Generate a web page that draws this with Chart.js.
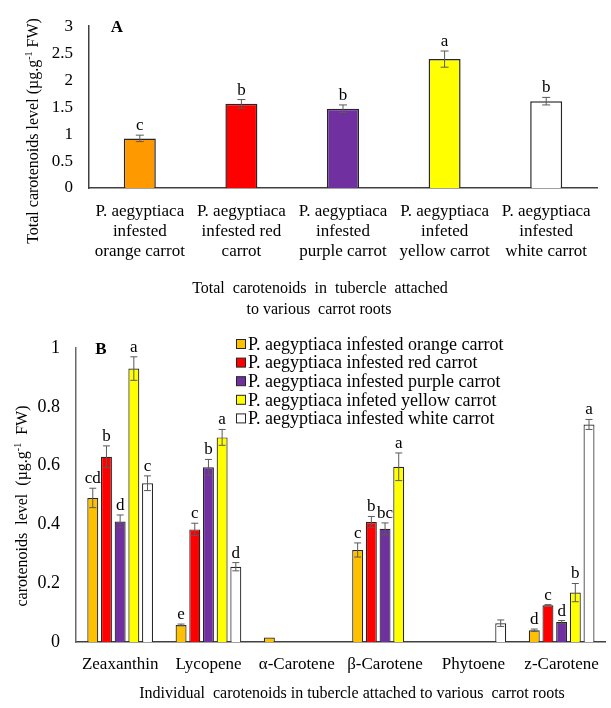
<!DOCTYPE html>
<html>
<head>
<meta charset="utf-8">
<script src="https://cdn.jsdelivr.net/npm/chart.js@4.4.0/dist/chart.umd.min.js"></script>
<style>
    body { margin: 0; background: #fff; }
    #wrap { position: relative; width: 611px; height: 708px; font-family: 'Liberation Serif', serif; color: #000; }
    canvas { position: absolute; left: 0; }
    .txt { position: absolute; white-space: pre; font-size: 16px; transform: translate(-50%, -50%); line-height: 1; }
    .rot { transform: translate(-50%, -50%) rotate(-90deg); }
    .panel { font-weight: bold; font-size: 17px; }
    sup { font-size: 10px; vertical-align: 6px; }
</style>
</head>
<body>
<div id="wrap">
    <canvas id="chartA" width="611" height="320" style="top:0"></canvas>
    <canvas id="chartB" width="611" height="388" style="top:320px"></canvas>
    <div class="txt panel" style="left:117px;top:26px">A</div>
    <div class="txt panel" style="left:101px;top:348px">B</div>
    <div class="txt rot" style="left:32px;top:131px">Total carotenoids level (µg.g<sup>-1</sup> FW)</div>
    <div class="txt" style="left:320px;top:288px">Total  carotenoids  in  tubercle  attached</div>
    <div class="txt" style="left:319px;top:309px">to various  carrot roots</div>
    <div class="txt rot" style="left:21px;top:506px">carotenoids  level  (µg.g<sup>-1</sup>  FW)</div>
    <div class="txt" style="left:352px;top:693px">Individual  carotenoids in tubercle attached to various  carrot roots</div>
</div>
<script>
// painel A - carotenoides totais
const carrotLabels = [
    ['P. aegyptiaca', 'infested', 'orange carrot'],
    ['P. aegyptiaca', 'infested red', 'carrot'],
    ['P. aegyptiaca', 'infested', 'purple carrot'],
    ['P. aegyptiaca', 'infeted', 'yellow carrot'],
    ['P. aegyptiaca', 'infested', 'white carrot']
];
const totalValues = [0.92, 1.56, 1.47, 2.39, 1.61];
const totalErrors = [0.06, 0.08, 0.07, 0.15, 0.07];
const totalLetters = ['c', 'b', 'b', 'a', 'b'];
const totalTicks = [0, 0.5, 1, 1.5, 2, 2.5, 3];

// painel B - carotenoides individuais
const carotenoids = ['Zeaxanthin', 'Lycopene', 'α-Carotene', 'β-Carotene', 'Phytoene', 'z-Carotene'];
const seriesNames = [
    'P. aegyptiaca infested orange carrot',
    'P. aegyptiaca infested red carrot',
    'P. aegyptiaca infested purple carrot',
    'P. aegyptiaca infeted yellow carrot',
    'P. aegyptiaca infested white carrot'
];
const orangeValues = [0.49, 0.058, 0.015, 0.313, null, 0.04];
const redValues = [0.63, 0.383, null, 0.408, null, 0.125];
const purpleValues = [0.41, 0.594, null, 0.385, null, 0.068];
const yellowValues = [0.93, 0.696, null, 0.596, null, 0.168];
const whiteValues = [0.54, 0.256, null, null, 0.064, 0.74];

const orangeErrors = [0.033, 0.003, 0, 0.024, null, 0.004];
const redErrors = [0.037, 0.021, null, 0.019, null, 0.002];
const purpleErrors = [0.022, 0.027, null, 0.02, null, 0.005];
const yellowErrors = [0.04, 0.027, null, 0.047, null, 0.031];
const whiteErrors = [0.025, 0.014, null, null, 0.011, 0.017];

const orangeLetters = ['cd', 'e', '', 'c', '', 'd'];
const redLetters = ['b', 'c', '', 'b', '', 'c'];
const purpleLetters = ['d', 'b', '', 'bc', '', 'd'];
const yellowLetters = ['a', 'a', '', 'a', '', 'b'];
const whiteLetters = ['c', 'd', '', '', '', 'a'];
const individualTicks = [0, 0.2, 0.4, 0.6, 0.8, 1];

const FONT = 'Liberation Serif';

// barras de erro + letras de significancia
const errorBarPlugin = {
    id: 'errorBars',
    afterDatasetsDraw(chart) {
        const ctx = chart.ctx;
        const y = chart.scales.y;
        const cap = chart.options.capHalf || 4;
        chart.data.datasets.forEach((ds, di) => {
            const meta = chart.getDatasetMeta(di);
            meta.data.forEach((bar, i) => {
                const v = ds.data[i];
                if (v === null || v === undefined) return;
                const err = ds.errors[i] || 0;
                const top = y.getPixelForValue(v + err);
                const bot = y.getPixelForValue(v - err);
                if (err > 0) {
                    ctx.save();
                    ctx.strokeStyle = '#5a5a5a';
                    ctx.lineWidth = 1;
                    ctx.beginPath();
                    ctx.moveTo(bar.x, top); ctx.lineTo(bar.x, bot);
                    ctx.moveTo(bar.x - cap, top); ctx.lineTo(bar.x + cap, top);
                    ctx.moveTo(bar.x - cap, bot); ctx.lineTo(bar.x + cap, bot);
                    ctx.stroke();
                    ctx.restore();
                }
                const letter = ds.letters[i];
                if (letter) {
                    ctx.save();
                    ctx.fillStyle = '#000';
                    ctx.font = '17px "' + FONT + '"';
                    ctx.textAlign = 'center';
                    ctx.textBaseline = 'alphabetic';
                    ctx.fillText(letter, bar.x, Math.min(top, y.getPixelForValue(v)) - 5);
                    ctx.restore();
                }
            });
        });
    }
};

// legenda desenhada dentro da area do grafico B
const boxLegendPlugin = {
    id: 'boxLegend',
    afterDraw(chart) {
        const ctx = chart.ctx;
        const x0 = chart.chartArea.left + 160;
        const y0 = chart.chartArea.top - 4;
        chart.data.datasets.forEach((ds, i) => {
            const yc = y0 + i * 18.6;
            ctx.save();
            ctx.fillStyle = ds.backgroundColor;
            ctx.strokeStyle = '#262626';
            ctx.lineWidth = 1;
            ctx.fillRect(x0, yc - 4.5, 9, 9);
            ctx.strokeRect(x0 + 0.5, yc - 4.5, 9, 9);
            ctx.fillStyle = '#000';
            ctx.font = '18px "' + FONT + '"';
            ctx.textBaseline = 'middle';
            ctx.fillText(ds.label, x0 + 12, yc + 1);
            ctx.restore();
        });
    }
};

const fmt = v => String(+Number(v).toFixed(2));

new Chart(document.getElementById('chartA'), {
    type: 'bar',
    data: {
        labels: carrotLabels,
        datasets: [{
            data: totalValues,
            errors: totalErrors,
            letters: totalLetters,
            backgroundColor: ['#FF9900', '#FF0000', '#7030A0', '#FFFF00', '#FFFFFF'],
            borderColor: '#262626',
            borderWidth: 1.5,
            categoryPercentage: 1,
            barPercentage: 0.315
        }]
    },
    options: {
        responsive: false,
        animation: false,
        capHalf: 4,
        layout: { padding: { top: 19, right: 14, left: 0, bottom: 0 } },
        plugins: { legend: { display: false }, tooltip: { enabled: false } },
        scales: {
            x: {
                grid: { display: false, drawTicks: false },
                border: { color: '#404040', width: 1.5 },
                ticks: { color: '#000', font: { family: FONT, size: 17, lineHeight: 1.2 }, padding: 13, autoSkip: false, maxRotation: 0 },
                afterFit: s => { s.height = 132; }
            },
            y: {
                min: 0, max: 3,
                afterBuildTicks: s => { s.ticks = totalTicks.map(v => ({ value: v })); },
                grid: { display: false, drawTicks: false },
                border: { color: '#404040', width: 1.5 },
                ticks: { color: '#000', font: { family: FONT, size: 17 }, padding: 16, callback: fmt },
                afterFit: s => { s.width = 89; }
            }
        }
    },
    plugins: [errorBarPlugin]
});

const seriesValues = [orangeValues, redValues, purpleValues, yellowValues, whiteValues];
const seriesErrors = [orangeErrors, redErrors, purpleErrors, yellowErrors, whiteErrors];
const seriesLetters = [orangeLetters, redLetters, purpleLetters, yellowLetters, whiteLetters];
const seriesColors = ['#FFC000', '#FF0000', '#7030A0', '#FFFF00', '#FFFFFF'];

new Chart(document.getElementById('chartB'), {
    type: 'bar',
    data: {
        labels: carotenoids,
        datasets: seriesNames.map((name, i) => ({
            label: name,
            data: seriesValues[i],
            errors: seriesErrors[i],
            letters: seriesLetters[i],
            backgroundColor: seriesColors[i],
            borderColor: '#262626',
            borderWidth: 1.2,
            categoryPercentage: 0.775,
            barPercentage: 0.8
        }))
    },
    options: {
        responsive: false,
        animation: false,
        capHalf: 3.5,
        layout: { padding: { top: 28, right: 1, left: 0, bottom: 0 } },
        plugins: { legend: { display: false }, tooltip: { enabled: false } },
        scales: {
            x: {
                grid: { display: false, drawTicks: false },
                border: { color: '#404040', width: 1.5 },
                ticks: { color: '#000', font: { family: FONT, size: 17 }, padding: 12, autoSkip: false, maxRotation: 0 },
                afterFit: s => { s.height = 66; }
            },
            y: {
                min: 0, max: 1,
                afterBuildTicks: s => { s.ticks = individualTicks.map(v => ({ value: v })); },
                grid: { display: false, drawTicks: false },
                border: { color: '#6a6a6a', width: 1.5 },
                ticks: { color: '#000', font: { family: FONT, size: 18 }, padding: 16, callback: fmt },
                afterFit: s => { s.width = 76; }
            }
        }
    },
    plugins: [errorBarPlugin, boxLegendPlugin]
});
</script>
</body>
</html>
